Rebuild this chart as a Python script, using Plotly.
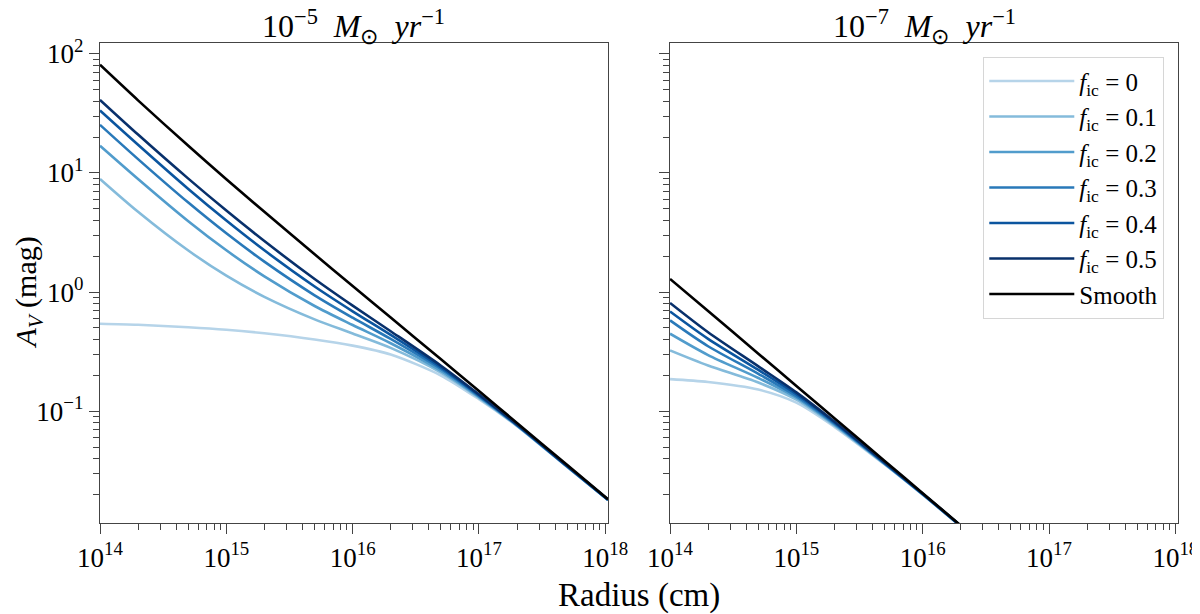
import plotly.graph_objects as go

# radius grid (cm) shared by every curve
radius = [1e14, 2e14, 5e14, 1e15, 2e15, 5e15, 1e16, 2e16, 5e16, 1e17, 2e17, 5e17, 1.05e18]

# A_V (mag) for Mdot = 1e-5 Msun/yr
av5_f00 = [0.542, 0.531, 0.507, 0.483, 0.451, 0.40, 0.355, 0.299, 0.1995, 0.126, 0.075, 0.034, 0.018]
av5_f01 = [8.9, 4.72, 2.23, 1.373, 0.912, 0.59, 0.449, 0.34, 0.211, 0.1295, 0.0755, 0.0341, 0.018]
av5_f02 = [16.9, 8.89, 3.93, 2.24, 1.355, 0.764, 0.529, 0.372, 0.2185, 0.1317, 0.076, 0.0343, 0.01805]
av5_f03 = [25.3, 13.05, 5.63, 3.11, 1.80, 0.939, 0.609, 0.404, 0.226, 0.134, 0.0764, 0.0344, 0.01807]
av5_f04 = [33.4, 17.22, 7.33, 3.98, 2.24, 1.113, 0.689, 0.4365, 0.2335, 0.136, 0.0769, 0.0345, 0.0181]
av5_f05 = [41.0, 20.98, 8.95, 4.83, 2.68, 1.287, 0.769, 0.469, 0.241, 0.1384, 0.0774, 0.0347, 0.01812]
av5_smooth = [80.7, 40.6, 16.87, 8.85, 4.71, 2.075, 1.124, 0.611, 0.273, 0.148, 0.0798, 0.0353, 0.01824]

# A_V (mag) for Mdot = 1e-7 Msun/yr
av7_f00 = [0.186, 0.176, 0.152, 0.118, 0.074, 0.0357, 0.0199, 0.0108, 0.00475, 0.00255, 0.00137, 0.000604, 0.00031]
av7_f01 = [0.324, 0.242, 0.174, 0.125, 0.076, 0.0361, 0.02, 0.0108, 0.00476, 0.00255, 0.00137, 0.000604, 0.00031]
av7_f02 = [0.447, 0.296, 0.19, 0.13, 0.0775, 0.0362, 0.0201, 0.0109, 0.00477, 0.00256, 0.00137, 0.000605, 0.00031]
av7_f03 = [0.578, 0.351, 0.206, 0.134, 0.079, 0.0365, 0.0202, 0.0109, 0.00478, 0.00256, 0.00137, 0.000605, 0.00031]
av7_f04 = [0.687, 0.405, 0.222, 0.139, 0.0805, 0.0368, 0.0202, 0.0109, 0.00479, 0.00257, 0.00137, 0.000606, 0.00031]
av7_f05 = [0.81, 0.46, 0.238, 0.144, 0.082, 0.0371, 0.0203, 0.0109, 0.00479, 0.00257, 0.00138, 0.000606, 0.00031]
av7_smooth = [1.29, 0.693, 0.304, 0.163, 0.0873, 0.0383, 0.0205, 0.011, 0.00482, 0.00258, 0.00138, 0.000607, 0.000311]

names = ["<i>f</i><sub>ic</sub> = 0", "<i>f</i><sub>ic</sub> = 0.1", "<i>f</i><sub>ic</sub> = 0.2",
         "<i>f</i><sub>ic</sub> = 0.3", "<i>f</i><sub>ic</sub> = 0.4", "<i>f</i><sub>ic</sub> = 0.5", "Smooth"]
panel_titles = ["10<sup>\u22125</sup>&nbsp; <i>M</i><sub>\u2299</sub>&nbsp; <i>yr</i><sup>\u22121</sup>",
                "10<sup>\u22127</sup>&nbsp; <i>M</i><sub>\u2299</sub>&nbsp; <i>yr</i><sup>\u22121</sup>"]
x_tickvals = [1e14, 1e15, 1e16, 1e17, 1e18]
x_ticktext = ["10<sup>14</sup>", "10<sup>15</sup>", "10<sup>16</sup>", "10<sup>17</sup>", "10<sup>18</sup>"]
y_tickvals = [0.1, 1, 10, 100]
y_ticktext = ["10<sup>\u22121</sup>", "10<sup>0</sup>", "10<sup>1</sup>", "10<sup>2</sup>"]

colours = ["#b6d4e9", "#84bbdb", "#519ccc", "#2979b9", "#0b559f", "#08306b", "black"]
serif = "Liberation Serif"

left = [av5_f00, av5_f01, av5_f02, av5_f03, av5_f04, av5_f05, av5_smooth]
right = [av7_f00, av7_f01, av7_f02, av7_f03, av7_f04, av7_f05, av7_smooth]

fig = go.Figure()
for panel, (curves, xa, ya) in enumerate([(left, "x", "y"), (right, "x2", "y2")]):
    for i, av in enumerate(curves):
        fig.add_trace(go.Scatter(x=radius, y=av, mode="lines", name=names[i],
                                 line=dict(color=colours[i], width=2.6, shape="spline", smoothing=0.8),
                                 xaxis=xa, yaxis=ya, legendgroup=str(i),
                                 showlegend=(panel == 1), hoverinfo="skip"))

# empty traces so the overlay axes carrying the minor ticks get drawn
for xa, ya in [("x3", "y"), ("x4", "y2"), ("x", "y3"), ("x2", "y4")]:
    fig.add_trace(go.Scatter(x=[], y=[], xaxis=xa, yaxis=ya, showlegend=False, hoverinfo="skip"))

# minor tick positions (2..9 in every decade)
minor_x = [m * 10.0 ** e for e in range(14, 18) for m in range(2, 10)]
minor_y = [m * 10.0 ** e for e in range(-2, 2) for m in range(2, 10)]

xrange = [14, 18.021]
yrange = [-1.938, 2.09]

tick_font = dict(family=serif, size=27, color="black")
axis_style = dict(type="log", ticks="outside", ticklen=10, tickwidth=1.3, tickcolor="#444",
                  showgrid=False, zeroline=False, automargin=False, tickfont=tick_font)
minor_style = dict(type="log", ticks="outside", ticklen=6, tickwidth=1.1, tickcolor="#444",
                   showgrid=False, zeroline=False, showline=False, showticklabels=False,
                   automargin=False, tickmode="array")

xstyle = dict(axis_style, range=xrange, tickmode="array", tickvals=x_tickvals, ticktext=x_ticktext,
              showline=True, linecolor="#444", linewidth=1.3, mirror=True)
ystyle = dict(axis_style, range=yrange, tickmode="array", tickvals=y_tickvals, ticktext=y_ticktext,
              showline=True, linecolor="#444", linewidth=1.3, mirror=True)

# the page body adds an 8px margin, so the figure is 8px smaller than the window
fig.update_layout(
    width=1192, height=606,
    margin=dict(l=92, r=22, t=35, b=91),
    plot_bgcolor="white", paper_bgcolor="white",
    font=dict(family=serif, color="black"),
    xaxis=dict(xstyle, domain=[0, 0.4712], anchor="y"),
    xaxis2=dict(xstyle, domain=[0.5288, 1], anchor="y2"),
    yaxis=dict(ystyle, anchor="x"),
    yaxis2=dict(ystyle, anchor="x2", matches="y", showticklabels=False),
    xaxis3=dict(minor_style, range=xrange, tickvals=minor_x, overlaying="x", anchor="y", side="bottom"),
    xaxis4=dict(minor_style, range=xrange, tickvals=minor_x, overlaying="x2", anchor="y2", side="bottom"),
    yaxis3=dict(minor_style, range=yrange, tickvals=minor_y, overlaying="y", anchor="x", side="left"),
    yaxis4=dict(minor_style, range=yrange, tickvals=minor_y, overlaying="y2", anchor="x2", side="left"),
    legend=dict(x=0.987, y=0.971, xanchor="right", yanchor="top",
                font=dict(family=serif, size=25, color="black"),
                bgcolor="rgba(255,255,255,0.85)", bordercolor="#d6d6d6", borderwidth=1.3,
                tracegroupgap=0, itemwidth=85),
    showlegend=True,
)

fig.add_annotation(text=panel_titles[0], x=0.2356, y=1.034, xref="paper", yref="paper",
                   showarrow=False, font=dict(family=serif, size=32), xanchor="center", yanchor="middle")
fig.add_annotation(text=panel_titles[1], x=0.7644, y=1.034, xref="paper", yref="paper",
                   showarrow=False, font=dict(family=serif, size=32), xanchor="center", yanchor="middle")
fig.add_annotation(text="Radius (cm)", x=0.5, y=-0.15, xref="paper", yref="paper",
                   showarrow=False, font=dict(family=serif, size=33), xanchor="center", yanchor="middle")
fig.add_annotation(text="<i>A<sub>V</sub></i> (mag)", x=-0.0668, y=0.48, xref="paper", yref="paper",
                   showarrow=False, textangle=-90, font=dict(family=serif, size=30),
                   xanchor="center", yanchor="middle")

fig.write_html("out.html")
